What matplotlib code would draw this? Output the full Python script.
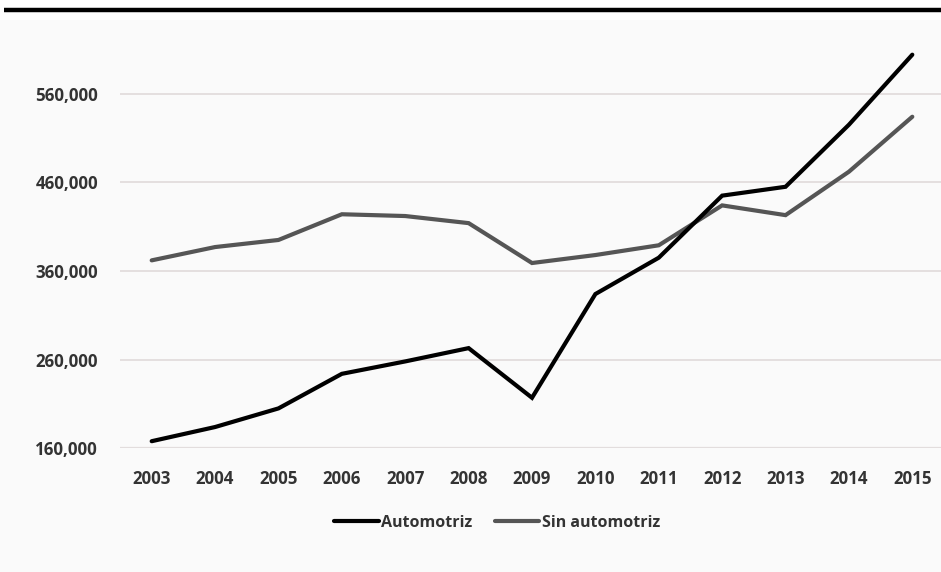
import matplotlib
matplotlib.use("Agg")
import matplotlib.pyplot as plt
from matplotlib.lines import Line2D
from matplotlib.patches import Rectangle
from matplotlib.ticker import FuncFormatter

years = [2003, 2004, 2005, 2006, 2007, 2008, 2009, 2010, 2011, 2012, 2013, 2014, 2015]
automotriz = [168000, 184000, 205000, 244000, 258000, 273000, 217000, 334000,
              375000, 445000, 455000, 525000, 604000]
sin_automotriz = [372000, 387000, 395000, 424000, 422000, 414000, 369000, 378000,
                  389000, 434000, 423000, 472000, 534000]
y_ticks = [160000, 260000, 360000, 460000, 560000]
series_names = ["Automotriz", "Sin automotriz"]

W, H = 941, 572
fig = plt.figure(figsize=(W / 100, H / 100), dpi=100, facecolor="#fafafa")

# white band and heavy rule across the top
fig.patches.append(Rectangle((0, 1 - 20 / H), 1, 20 / H, transform=fig.transFigure,
                             facecolor="white", edgecolor="none", zorder=0))
fig.add_artist(Line2D([4 / W, 1], [1 - 9.5 / H, 1 - 9.5 / H], transform=fig.transFigure,
                      color="black", linewidth=3.2, solid_capstyle="butt"))

ax = fig.add_axes([120 / W, 1 - 448.3 / H, (944 - 120) / W, (448.3 - 40.5) / H])
ax.set_facecolor("none")

ax.plot(years, automotriz, color="#000000", linewidth=3.0, solid_capstyle="round",
        solid_joinstyle="miter", label=series_names[0], zorder=3)
ax.plot(years, sin_automotriz, color="#555555", linewidth=3.0, solid_capstyle="round",
        solid_joinstyle="miter", label=series_names[1], zorder=2)

ax.set_xlim(2002.5, 2015.5)
ax.set_ylim(160000, 620000)
ax.set_xticks(years)
ax.set_yticks(y_ticks)
ax.yaxis.set_major_formatter(FuncFormatter(lambda v, p: f"{int(v):,}"))

ax.grid(axis="y", color="#e2dddd", linewidth=1.3)
ax.set_axisbelow(True)
for s in ax.spines.values():
    s.set_visible(False)
ax.axhline(160000, color="#e2dddd", linewidth=1.6, zorder=1)

ax.tick_params(axis="both", length=0, colors="#333333")
ax.tick_params(axis="x", pad=15.5)
ax.tick_params(axis="y", pad=15.8)
for lab in ax.get_xticklabels() + ax.get_yticklabels():
    lab.set_fontfamily("Open Sans")
    lab.set_fontsize(12.2)
    lab.set_fontweight("bold")

leg = fig.legend(loc="center", bbox_to_anchor=(497 / W, 1 - 523 / H), ncol=2,
                 frameon=False, handlelength=2.8, handletextpad=0.15, columnspacing=1.4,
                 prop=dict(family="Open Sans", size=11.5, weight="bold"))
for t in leg.get_texts():
    t.set_color("#333333")

fig.savefig("out.png", dpi=100, facecolor=fig.get_facecolor())
